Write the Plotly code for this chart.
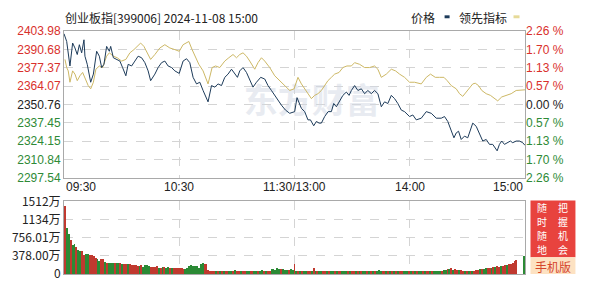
import plotly.graph_objects as go

# ---------------- data ----------------
prev_close = 2350.76
price_ticks = [2297.54, 2310.84, 2324.15, 2337.45, 2350.76, 2364.07, 2377.37, 2390.68, 2403.98]
pct_labels = ["2.26 %", "1.70 %", "1.13 %", "0.57 %", "0.00 %", "0.57 %", "1.13 %", "1.70 %", "2.26 %"]
vol_ticks = [0, 378.00, 756.01, 1134, 1512]
vol_labels = ["0", "378.00万", "756.01万", "1134万", "1512万"]
time_pos = [0, 60, 120, 180, 240]
time_labels = ["09:30", "10:30", "11:30/13:00", "14:00", "15:00"]

price_t = [0, 1.4, 3.1, 4.5, 5.7, 6.9, 8.0, 9.2, 10.4, 10.9,
           12.1, 13.9, 15.3, 17.0, 18.4, 19.6, 20.8, 22.2, 23.6, 24.3,
           25.7, 27.4, 29.1, 30.5, 32.2, 33.4, 35.2, 36.9, 38.6, 40.4,
           42.1, 43.8, 45.1, 47.3, 49.0, 50.8, 52.5, 54.2, 56.0, 57.7,
           60.0, 62.0, 63.8, 65.5, 67.2, 69.0, 70.7, 72.4, 75.0, 76.8,
           78.5, 80.2, 82.0, 83.7, 85.4, 87.2, 88.6, 90.3, 91.5, 93.2,
           95.0, 96.7, 98.4, 100.2, 102.4, 104.5, 106.2, 108.0, 109.7, 111.4,
           113.2, 115.3, 117.5, 120.1, 121.3, 123.6, 125.3, 127.0, 128.3, 130.0,
           131.4, 132.8, 134.0, 135.7, 137.5, 139.2, 140.4, 141.8, 143.5, 145.2,
           147.0, 148.4, 149.6, 151.3, 153.0, 154.8, 156.5, 158.2, 160.0, 161.7,
           163.4, 165.2, 166.9, 168.6, 170.4, 172.1, 173.8, 175.6, 177.3, 179.9,
           181.6, 183.4, 186.0, 188.6, 191.2, 193.8, 196.4, 198.1, 199.8, 201.6,
           203.0, 204.2, 205.4, 206.8, 208.5, 210.2, 211.6, 212.8, 214.6, 216.3,
           218.0, 219.8, 221.5, 223.2, 224.5, 225.5, 226.7, 227.9, 229.3, 231.0,
           232.4, 233.6, 235.4, 237.1, 238.8, 240.0]
price_v = [2402.00, 2396.39, 2378.65, 2395.25, 2391.70, 2386.95, 2394.05, 2388.16, 2397.60, 2385.74,
           2379.85, 2366.87, 2372.76, 2389.29, 2385.74, 2377.50, 2379.85, 2392.84, 2389.29, 2392.84,
           2384.60, 2383.40, 2382.20, 2377.50, 2371.55, 2379.85, 2378.65, 2382.20, 2385.74, 2384.60,
           2381.06, 2375.10, 2368.00, 2372.76, 2377.50, 2381.06, 2382.20, 2378.65, 2377.50, 2375.10,
           2373.26, 2382.20, 2383.90, 2381.06, 2370.42, 2365.66, 2366.87, 2360.91, 2352.67, 2364.46,
           2363.32, 2365.66, 2364.46, 2370.42, 2372.76, 2376.31, 2373.96, 2370.42, 2375.10, 2377.50,
           2373.96, 2368.00, 2363.32, 2366.87, 2370.42, 2369.21, 2364.46, 2360.91, 2357.36, 2353.81,
           2350.26, 2346.71, 2344.37, 2345.58, 2355.73, 2347.92, 2345.58, 2339.62, 2339.62, 2335.36,
           2338.48, 2337.28, 2337.28, 2342.03, 2345.58, 2345.58, 2351.47, 2349.13, 2353.81, 2357.36,
           2359.77, 2357.36, 2360.91, 2364.46, 2360.91, 2362.11, 2358.57, 2360.91, 2358.57, 2360.91,
           2358.57, 2349.13, 2352.67, 2351.47, 2357.36, 2355.02, 2351.47, 2346.71, 2345.58, 2342.03,
           2343.17, 2339.62, 2340.83, 2345.58, 2344.37, 2340.83, 2340.83, 2342.03, 2338.48, 2332.53,
           2326.63, 2330.18, 2331.39, 2325.43, 2327.84, 2326.63, 2332.53, 2337.28, 2334.94, 2330.18,
           2324.29, 2325.43, 2321.88, 2321.88, 2319.54, 2317.20, 2321.88, 2324.29, 2321.88, 2323.09,
           2324.29, 2323.09, 2324.29, 2324.29, 2323.09, 2321.17]

lead_t = [0.5, 1.4, 2.2, 3.1, 4.5, 5.7, 6.9, 8.3, 9.7, 10.9,
          12.6, 13.9, 15.3, 16.6, 18.4, 20.1, 22.2, 23.6, 25.7, 27.7,
          30.0, 32.2, 34.3, 36.4, 38.1, 39.9, 41.6, 43.3, 45.1, 47.3,
          49.9, 52.5, 55.1, 57.7, 60.0, 62.0, 65.0, 66.7, 68.5, 70.2,
          72.4, 75.0, 77.1, 78.9, 81.1, 83.7, 85.8, 88.0, 89.8, 91.5,
          93.2, 95.0, 96.7, 99.3, 101.0, 102.8, 104.5, 107.1, 109.7, 112.3,
          114.9, 117.5, 119.8, 121.8, 123.6, 125.3, 127.0, 128.8, 130.5, 132.2,
          134.0, 135.7, 137.4, 139.2, 140.9, 143.2, 145.2, 147.3, 149.6, 151.3,
          153.9, 156.5, 159.1, 161.7, 163.4, 165.2, 167.8, 170.4, 172.6, 174.7,
          177.3, 179.9, 182.5, 186.0, 188.6, 190.8, 193.3, 195.5, 197.8, 199.5,
          201.6, 204.2, 205.9, 207.6, 209.4, 211.1, 212.8, 214.1, 215.8, 217.5,
          219.8, 222.0, 224.1, 225.8, 227.9, 230.2, 232.8, 235.4, 238.0, 240.0]
lead_v = [2383.40, 2377.50, 2375.10, 2366.87, 2375.10, 2372.76, 2368.00, 2371.55, 2373.96, 2370.42,
          2364.46, 2362.11, 2366.87, 2376.31, 2378.65, 2377.50, 2385.74, 2388.16, 2385.74, 2384.60,
          2382.20, 2383.40, 2388.16, 2390.50, 2392.84, 2395.25, 2392.84, 2388.16, 2383.40, 2386.95,
          2391.70, 2394.05, 2391.70, 2390.50, 2389.29, 2394.05, 2396.39, 2390.50, 2384.60, 2379.85,
          2375.10, 2365.66, 2377.50, 2378.65, 2377.50, 2382.20, 2384.60, 2386.95, 2384.60, 2386.95,
          2388.16, 2385.74, 2382.20, 2376.31, 2381.06, 2384.60, 2382.20, 2377.50, 2371.55, 2368.00,
          2364.46, 2360.91, 2362.11, 2370.42, 2365.66, 2362.11, 2358.57, 2355.02, 2357.36, 2358.57,
          2360.91, 2364.46, 2368.00, 2370.42, 2372.76, 2373.96, 2377.50, 2378.65, 2378.65, 2381.06,
          2379.85, 2377.50, 2377.50, 2378.65, 2376.31, 2370.42, 2372.76, 2376.31, 2375.10, 2372.76,
          2370.42, 2366.87, 2366.87, 2365.66, 2370.42, 2372.76, 2370.42, 2370.42, 2370.42, 2368.00,
          2364.46, 2362.11, 2358.57, 2356.65, 2359.77, 2362.11, 2365.66, 2366.16, 2364.46, 2360.91,
          2358.57, 2357.36, 2355.02, 2353.38, 2356.22, 2357.36, 2358.57, 2360.91, 2361.40, 2361.40]

# volume per minute (万), minute index 0..240
volume = [1403, 953, 817, 701, 599, 613, 545, 497, 477, 477, 395, 415, 415, 395, 395, 361, 327, 293, 259, 293,
          313, 238, 225, 225, 225, 225, 211, 211, 211, 211, 191, 204, 204, 191, 191, 170, 170, 170, 165, 157,
          170, 136, 177, 177, 157, 136, 136, 136, 150, 123, 123, 129, 136, 109, 129, 116, 109, 109, 109, 109,
          109, 109, 100, 89, 123, 150, 170, 157, 157, 157, 123, 191, 211, 191, 191, 68, 60, 60, 55, 60,
          55, 60, 50, 55, 60, 55, 50, 55, 60, 65, 60, 55, 50, 55, 45, 50, 55, 50, 45, 55,
          50, 45, 55, 68, 60, 50, 55, 45, 89, 100, 82, 109, 95, 89, 100, 82, 75, 68, 100, 82,
          191,
          50, 45, 55, 50, 45, 55, 60, 50, 55, 109, 60, 45, 50, 45, 50, 45, 50, 55, 45, 50,
          45, 50, 55, 45, 50, 45, 55, 50, 45, 50, 55, 50, 45, 50, 45, 50, 55, 50, 45, 50,
          45, 50, 55, 82, 60, 50, 45, 55, 50, 45, 50, 45, 50, 45, 55, 50, 45, 50, 45, 50,
          45, 50, 45, 50, 45, 50, 45, 50, 55, 45, 50, 45, 50, 55, 60, 55, 60, 68, 82, 89,
          95, 109, 82, 95, 68, 82, 68, 60, 55, 60, 55, 60, 55, 60, 68, 82, 89, 95, 100, 109,
          116, 109, 123, 136, 129, 150, 143, 157, 163, 177, 170, 191, 204, 225, 259, 272, 0, 0, 0, 375]
vol_dir = ("rggrggrggrrggrrrrggr" "rgrgggrggrgrrgrrrrrg" "rggggrrrrgrgrggrgrrr"
           "rrrggggggggggrrrrrrg" "rgrgrrggrgrrgrrggrrg" "grggrgrrgggggrgggrgg" "r"
           "grgrggrrgrgrggrrgrgg" "rgrrgggrgrrgrgrggrgr" "grgggrrgrgrgrgrrgggr"
           "grgrggrgrrgrggggrggr" "grgrrgrrgrgrgrrrgrgg" "rrgrgrrgrrgrrrrrrrrg")
minutes = list(range(len(volume)))

# ---------------- style ----------------
RED = "#d9302c"
GREEN = "#2e8a36"
VRED = "#c0392f"
VGREEN = "#2b8a35"
NAVY = "#1d3b5a"
GOLD = "#cdb865"
FONT = "Liberation Sans, Noto Sans CJK SC, sans-serif"
CJK = "Noto Sans CJK SC, sans-serif"
W, H = 595, 293
L, R, T, B = 64, 525.5, 31, 279
PW, PH = R - L, B - T

def px(xp):
    return (xp - L) / PW

def py(yp):
    return (B - yp) / PH

def tick_color(v):
    if abs(v - prev_close) < 0.01:
        return "#222222"
    return RED if v > prev_close else GREEN

left_text = [f"<span style='color:{tick_color(v)}'>{v:.2f}</span>" for v in price_ticks]
right_text = [f"<span style='color:{tick_color(v)}'>{s}</span>" for v, s in zip(price_ticks, pct_labels)]

fig = go.Figure()

# watermark
fig.add_trace(go.Scatter(x=[129], y=[2351], mode="text", text=["<b>东方财富</b>"],
                         textfont=dict(family=CJK, size=34, color="rgba(210,216,228,0.5)"),
                         hoverinfo="skip", showlegend=False, xaxis="x", yaxis="y"))

fig.add_trace(go.Scatter(x=lead_t, y=lead_v, mode="lines", line=dict(color=GOLD, width=1),
                         hoverinfo="skip", showlegend=False, xaxis="x", yaxis="y"))
fig.add_trace(go.Scatter(x=price_t, y=price_v, mode="lines", line=dict(color=NAVY, width=1),
                         hoverinfo="skip", showlegend=False, xaxis="x", yaxis="y"))
# invisible trace to activate right axis
fig.add_trace(go.Scatter(x=[0], y=[prev_close], mode="markers", marker=dict(opacity=0),
                         hoverinfo="skip", showlegend=False, xaxis="x", yaxis="y2"))

fig.add_trace(go.Bar(x=minutes, y=volume, width=0.5,
                     marker=dict(color=[VRED if c == "r" else VGREEN for c in vol_dir], line=dict(width=0)),
                     hoverinfo="skip", showlegend=False, xaxis="x2", yaxis="y3"))

grid = dict(showgrid=True, gridcolor="#d4d4d4", griddash="dash", gridwidth=1)
frame = dict(showline=True, linecolor="#a9a9a9", linewidth=1, mirror=True, zeroline=False)

main_dom = [py(181), 1.0]
vol_dom = [0.0, py(205)]

fig.update_layout(
    width=W, height=H,
    margin=dict(l=L, r=W - R, t=T, b=H - B),
    paper_bgcolor="white", plot_bgcolor="white",
    font=dict(family=FONT, size=12, color="#222"),
    bargap=0,
    xaxis=dict(domain=[0, 1], range=[0, 240], anchor="y", tickvals=time_pos[1:-1],
               showticklabels=False, ticks="", **grid, **frame),
    yaxis=dict(domain=main_dom, range=[price_ticks[0], price_ticks[-1]], anchor="x",
               tickvals=price_ticks, ticktext=left_text, ticks="", **grid, **frame,
               tickfont=dict(size=12)),
    yaxis2=dict(overlaying="y", side="right", range=[price_ticks[0], price_ticks[-1]],
                tickvals=price_ticks, ticktext=right_text, ticks="", showgrid=False,
                zeroline=False, showline=False, tickfont=dict(size=12)),
    xaxis2=dict(domain=[0, 1], range=[-0.5, 240.5], anchor="y3", tickvals=time_pos[1:-1],
                showticklabels=False, ticks="", **grid, **frame),
    yaxis3=dict(domain=vol_dom, range=[0, vol_ticks[-1]], anchor="x2",
                tickvals=vol_ticks, ticktext=vol_labels, ticks="", **grid, **frame,
                tickfont=dict(family=CJK + ", " + FONT, size=12, color="#222")),
)

ann = []
# title
ann.append(dict(text="创业板指[399006] 2024-11-08 15:00", x=px(63), y=py(17), xref="paper", yref="paper",
                xanchor="left", yanchor="middle", showarrow=False,
                font=dict(family=CJK, size=12, color="#222")))
# legend
ann.append(dict(text="价格", x=px(437), y=py(17), xref="paper", yref="paper", xanchor="right",
                yanchor="middle", showarrow=False, font=dict(family=CJK, size=12, color="#222")))
ann.append(dict(text="领先指标", x=px(509), y=py(17), xref="paper", yref="paper", xanchor="right",
                yanchor="middle", showarrow=False, font=dict(family=CJK, size=12, color="#222")))
# time labels
for i, (tp, tl) in enumerate(zip(time_pos, time_labels)):
    anchor = "left" if i == 0 else ("right" if i == len(time_pos) - 1 else "center")
    ann.append(dict(text=tl, x=tp, y=py(190), xref="x", yref="paper", xanchor=anchor,
                    yanchor="middle", showarrow=False, font=dict(family=FONT, size=12, color="#222")))
# promo box text (two vertical columns, one character per row)
col_left = "随时随地"
col_right = "把握机会"
rows = [211.5, 225.5, 239.5, 253.5]
for col, cx in ((col_left, 543), (col_right, 564)):
    for ch, yy in zip(col, rows):
        ann.append(dict(text=ch, x=px(cx), y=py(yy), xref="paper", yref="paper", xanchor="center",
                        yanchor="middle", showarrow=False, borderpad=0,
                        font=dict(family=CJK, size=10, color="white")))
ann.append(dict(text="手机版", x=px(553.5), y=py(271), xref="paper", yref="paper", xanchor="center",
                yanchor="middle", showarrow=False, borderpad=0,
                font=dict(family=CJK, size=12, color="#d5452c")))
fig.update_layout(annotations=ann)

shapes = [
    dict(type="rect", xref="paper", yref="paper", x0=px(445), x1=px(450), y0=py(18), y1=py(15),
         fillcolor=NAVY, line=dict(width=0)),
    dict(type="rect", xref="paper", yref="paper", x0=px(514), x1=px(520), y0=py(18), y1=py(15),
         fillcolor="#e6da98", line=dict(width=0)),
    dict(type="rect", xref="paper", yref="paper", x0=px(531), x1=px(576), y0=py(262), y1=py(204),
         fillcolor="#e8433e", line=dict(width=0)),
    dict(type="rect", xref="paper", yref="paper", x0=px(531), x1=px(576), y0=py(279), y1=py(262),
         fillcolor="#fde2c2", line=dict(width=0)),
]
fig.update_layout(shapes=shapes)

fig.write_html("out.html")
